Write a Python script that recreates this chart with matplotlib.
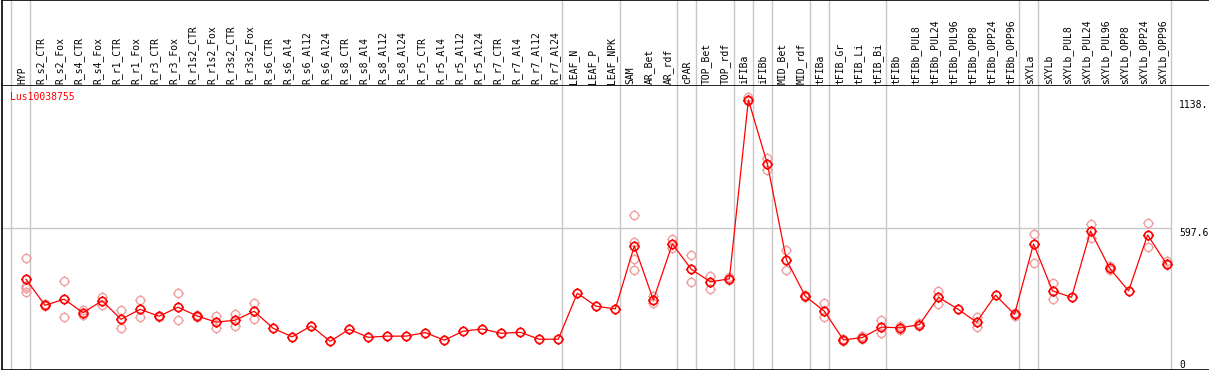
import matplotlib
matplotlib.use("Agg")
import matplotlib.pyplot as plt
from matplotlib.path import Path

# ---------------- data ----------------
gene = "Lus10038755"
labels = ["HYP",
          "R_s2_CTR", "R_s2_Fox", "R_s4_CTR", "R_s4_Fox", "R_r1_CTR", "R_r1_Fox",
          "R_r3_CTR", "R_r3_Fox", "R_r1s2_CTR", "R_r1s2_Fox", "R_r3s2_CTR", "R_r3s2_Fox",
          "R_s6_CTR", "R_s6_Al4", "R_s6_Al12", "R_s6_Al24",
          "R_s8_CTR", "R_s8_Al4", "R_s8_Al12", "R_s8_Al24",
          "R_r5_CTR", "R_r5_Al4", "R_r5_Al12", "R_r5_Al24",
          "R_r7_CTR", "R_r7_Al4", "R_r7_Al12", "R_r7_Al24",
          "LEAF_N", "LEAF_P", "LEAF_NPK",
          "SAM", "AR_Bet", "AR_rdf", "cPAR", "TOP_Bet", "TOP_rdf",
          "iFIBa", "iFIBb", "MID_Bet", "MID_rdf", "tFIBa",
          "tFIB_Gr", "tFIB_Li", "tFIB_Bi",
          "tFIBb", "tFIBb_PUL8", "tFIBb_PUL24", "tFIBb_PUL96",
          "tFIBb_OPP8", "tFIBb_OPP24", "tFIBb_OPP96",
          "sXYLa", "sXYLb", "sXYLb_PUL8", "sXYLb_PUL24", "sXYLb_PUL96",
          "sXYLb_OPP8", "sXYLb_OPP24", "sXYLb_OPP96"]

means = [381, 271, 297, 240, 290, 212, 254, 225, 263, 226, 200, 208, 246,
         174, 138, 184, 119, 170, 136, 141, 141, 156, 124, 162, 171, 153, 157, 128, 128,
         322, 267, 256,
         522, 294, 530, 423, 370, 383,
         1138, 867, 463, 309, 246,
         125, 135, 179, 176, 190, 305, 256, 200, 314, 233,
         530, 332, 305, 585, 428, 332, 568, 445]

replicates = [[470, 353, 343, 329], [275, 268], [374, 221], [251, 231], [305, 273],
              [252, 174], [294, 221], [228, 222], [322, 208], [230, 222], [226, 177],
              [235, 185], [281, 212],
              [], [], [], [], [], [], [], [], [], [], [], [], [], [], [], [],
              [], [], [],
              [651, 540, 466, 420], [311, 280], [550, 512], [483, 369], [395, 342], [392, 378],
              [1150, 1132], [892, 843], [505, 418], [314, 305], [280, 223],
              [128, 120], [140, 128], [209, 153],
              [185, 168], [198, 182], [333, 276], [], [221, 181], [], [238, 228],
              [571, 449], [364, 298], [], [615, 557], [435, 422], [], [618, 516], [458, 440]]

group_ends = [-1, 0, 28, 31, 34, 35, 37, 38, 39, 41, 42, 45, 52, 53, 60]
grid_value = 597.6
max_label = "1138."
mid_label = "597.6"
zero_label = "0"

# ---------------- drawing ----------------
W, H, DPI = 1209, 370, 100
fig = plt.figure(figsize=(W / DPI, H / DPI), dpi=DPI)
font = dict(family="DejaVu Sans Mono", size=7)

header_px = 85
left_px = 1.5
xmin, xmax = -1.29, 62.23

ax = fig.add_axes([left_px / W, 0, 1 - left_px / W, (H - header_px) / H])
hx = fig.add_axes([left_px / W, (H - header_px) / H, 1 - left_px / W, header_px / H])

n = len(labels)
xs = list(range(n))

# custom marker: circle with four outer ticks
circ = Path.unit_circle()
verts = [tuple(v) for v in circ.vertices]
codes = list(circ.codes)
t = 1.3
for (a, b) in [((0, 1), (0, t)), ((0, -1), (0, -t)), ((1, 0), (t, 0)), ((-1, 0), (-t, 0))]:
    verts += [a, b]
    codes += [Path.MOVETO, Path.LINETO]
mk = Path(verts, codes)
MS = 7.6

for a in (ax, hx):
    a.set_xlim(xmin, xmax)
    a.set_xticks([])
    a.set_yticks([])
    for s in a.spines.values():
        s.set_color("black")
        s.set_linewidth(1.2)
    a.spines["right"].set_visible(False)
    for g in group_ends:
        a.axvline(g + 0.22, color="#c8c8c8", lw=1.0, zorder=0)

hx.set_ylim(0, 1)
hx.spines["bottom"].set_visible(False)
for i, lab in enumerate(labels):
    hx.text(i - 0.2, 1.5 / header_px, lab, rotation=90, ha="center", va="bottom",
            color="black", **font)

ax.set_ylim(-2, 1201)
ax.hlines(grid_value, xmin, group_ends[-1] + 0.22, color="#c8c8c8", lw=1.0, zorder=0)

rx, ry = [], []
for i, r in enumerate(replicates):
    for v in r:
        rx.append(i)
        ry.append(v)
ax.plot(rx, ry, linestyle="none", marker=mk, markersize=MS, markerfacecolor="none",
        markeredgecolor="#f0a0a0", markeredgewidth=1.0, zorder=2)
ax.plot(xs, means, color="red", lw=0.9, zorder=3)
ax.plot(xs, means, linestyle="none", marker=mk, markersize=MS, markerfacecolor="none",
        markeredgecolor="red", markeredgewidth=1.2, zorder=4)

lab_x = 1179 / W
ax.text(lab_x, max(means), max_label, transform=ax.get_yaxis_transform(), ha="left",
        va="top", color="black", **font)
ax.text(lab_x, grid_value, mid_label, transform=ax.get_yaxis_transform(), ha="left",
        va="top", color="black", **font)
ax.text(lab_x, 0, zero_label, transform=ax.get_yaxis_transform(), ha="left",
        va="bottom", color="black", **font)
ax.text(0.0068, 1 - 12 / (H - header_px), gene, transform=ax.transAxes, ha="left",
        va="center", color="red", **font)

fig.savefig("out.png", dpi=DPI)
